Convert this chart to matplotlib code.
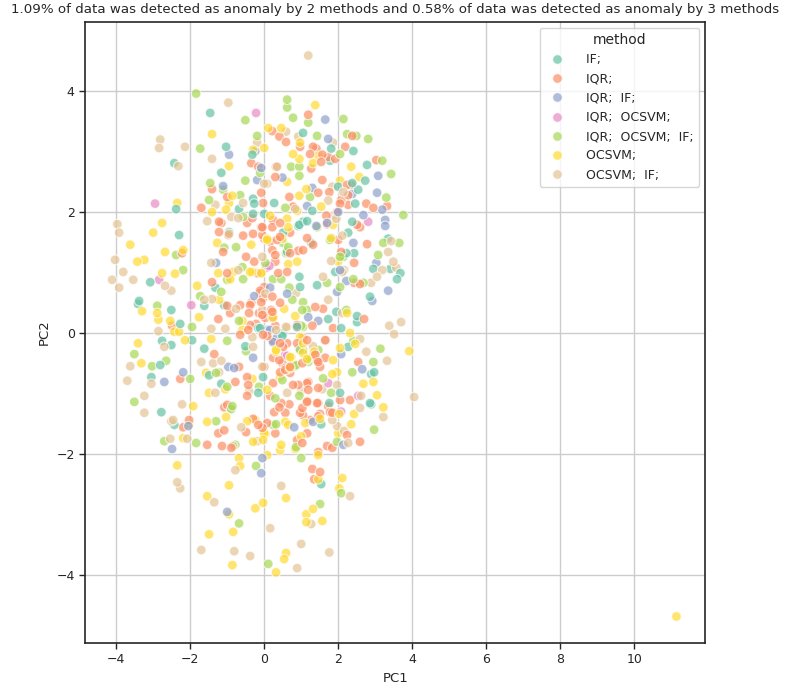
import matplotlib
matplotlib.use("Agg")
import matplotlib.pyplot as plt
import numpy as np
import pandas as pd
import seaborn as sns

# points, grouped by detection method (PC1, PC2)
pts_if = [
    (-1.46, 3.64), (-1.03, 3.08), (-0.32, 2.95), (-2.43, 2.81), (-1.16, 2.65), (-0.30, 2.22),
    (-0.27, 2.14), (-2.38, 2.05), (-0.68, 2.05), (-0.30, 1.97), (0.00, 1.97), (1.05, 3.31),
    (1.81, 3.05), (2.41, 3.01), (1.78, 2.85), (2.78, 2.78), (2.73, 2.52), (2.38, 2.48),
    (2.00, 2.42), (2.54, 2.37), (0.27, 2.15), (2.46, 2.14), (1.30, 2.02), (1.16, 1.85),
    (2.38, 1.84), (0.95, 1.79), (-2.30, 1.62), (-3.08, 0.84), (-1.32, 0.75), (-3.38, 0.53),
    (-3.41, 0.48), (-2.51, 0.38), (-1.62, 0.45), (-2.27, 0.15), (-2.76, -0.13), (-2.51, -0.20),
    (-1.95, -0.12), (-1.62, -0.26), (-2.81, -0.53), (-3.05, -0.73), (-1.49, -0.70), (-1.16, -0.84),
    (-0.16, -0.99), (-0.03, -0.73), (-0.51, -0.22), (-0.95, 1.67), (-1.08, 0.46), (-0.11, 0.08),
    (0.92, 1.77), (1.05, 1.84), (2.27, 1.66), (0.51, 1.66), (0.62, 1.34), (1.27, 1.49),
    (2.22, 1.32), (2.43, 1.32), (3.35, 1.56), (2.95, 1.06), (3.41, 1.06), (3.68, 0.99),
    (3.59, 0.89), (1.92, 1.01), (1.43, 0.79), (2.86, 0.60), (1.95, 0.35), (1.73, 0.23),
    (2.08, 0.08), (2.51, 0.28), (2.51, 0.18), (0.89, 0.10), (0.49, -0.05), (2.27, -0.23),
    (2.97, -0.65), (2.89, -0.68), (2.86, -1.16), (1.76, -1.16), (2.05, -0.99), (-2.78, -1.31),
    (-2.43, -1.52), (2.89, -1.18), (1.54, -1.51), (1.54, -2.50), (0.95, 0.93), (0.97, 0.76),
    (-0.16, 0.08), (0.51, 0.00),
]
pts_iqr = [
    (-0.35, 2.81), (-0.16, 2.75), (-1.41, 2.38), (-0.08, 2.32), (-1.00, 2.25), (-0.03, 2.15),
    (-1.70, 2.07), (-0.32, 1.90), (-1.22, 1.84), (-1.16, 1.82), (1.19, 3.61), (0.22, 3.34),
    (0.41, 3.25), (2.38, 3.26), (0.59, 3.16), (0.97, 3.08), (1.32, 3.08), (1.41, 3.05),
    (2.19, 3.08), (1.24, 2.96), (1.57, 2.95), (1.73, 2.91), (1.92, 2.88), (3.03, 2.86),
    (1.54, 2.83), (0.32, 2.75), (1.27, 2.72), (0.30, 2.58), (1.57, 2.53), (2.24, 2.45),
    (2.35, 2.45), (1.46, 2.32), (1.76, 2.33), (0.68, 2.25), (2.27, 2.28), (2.08, 2.20),
    (2.05, 2.14), (2.27, 2.12), (2.76, 2.14), (2.95, 2.07), (3.32, 2.10), (0.78, 2.09),
    (1.97, 2.00), (1.68, 1.94), (0.24, 1.87), (2.51, 1.79), (2.59, 1.75), (0.43, 1.82),
    (1.70, 1.80), (-2.22, 1.32), (-2.49, 0.12), (-1.24, 0.23), (-0.92, 0.33), (-1.00, 0.45),
    (-0.65, -0.03), (-1.35, -0.35), (-2.27, -0.76), (-0.68, -0.56), (-0.78, -0.81), (-0.46, -0.73),
    (-0.43, -0.86), (-0.46, -1.04), (-1.00, -1.19), (0.00, -0.56), (-1.22, 1.67), (-0.97, 1.62),
    (-0.57, 1.61), (-0.30, 1.64), (-0.08, 1.75), (-0.46, 1.82), (-1.11, 1.34), (0.00, 1.56),
    (-0.49, 1.26), (-0.27, 1.18), (-1.00, 0.99), (-0.19, 0.99), (-1.41, 0.84), (0.00, 0.76),
    (-0.11, 0.70), (-0.08, 0.51), (-0.35, 0.50), (-0.41, 0.33), (-0.14, 0.33), (0.03, 0.25),
    (-0.22, 0.15), (-0.03, -0.03), (-0.43, 0.05), (-0.05, 1.75), (0.22, 1.75), (0.16, 1.51),
    (0.43, 1.59), (0.92, 1.36), (1.16, 1.57), (1.32, 1.46), (2.00, 1.54), (2.08, 1.34),
    (2.43, 1.16), (2.78, 1.47), (2.59, 0.81), (2.43, 0.83), (1.59, 0.40), (1.38, 0.43),
    (1.86, 0.08), (2.70, 0.23), (1.30, 0.12), (0.19, 0.38), (1.65, -0.41), (2.54, -0.48),
    (2.32, -1.11), (2.05, -1.11), (1.51, -0.56), (1.19, -0.81), (1.46, -0.91), (1.46, -1.16),
    (0.08, -0.05), (0.89, 0.10), (0.51, -0.23), (1.05, -0.08), (1.32, -0.38), (1.43, -0.45),
    (0.41, -0.45), (0.70, -0.56), (0.57, -0.61), (0.24, -0.83), (0.16, -1.04), (0.46, -1.16),
    (0.78, -0.86), (1.16, -1.14), (-2.19, -1.56), (-2.03, -1.44), (-1.08, -1.23), (-1.08, -1.61),
    (-1.24, -1.66), (-0.49, -1.64), (-0.16, -1.52), (-0.05, -1.57), (-0.30, -1.42), (-1.54, -1.85),
    (-1.14, -1.87), (-0.89, -1.90), (2.59, -1.80), (2.24, -1.69), (1.78, -1.31), (1.51, -1.34),
    (1.46, -1.38), (1.03, -1.24), (1.05, -1.36), (1.16, -1.66), (1.03, -1.82), (0.89, -1.77),
    (1.70, -1.87), (1.84, -1.90), (1.46, -1.97), (0.30, -1.66), (0.08, -1.49), (1.30, -2.25),
    (1.51, -2.30), (1.35, -2.42),
    # denser centre
    (-0.05, 1.62), (0.35, 1.54), (0.70, 1.66), (0.22, 1.37), (0.30, 1.29), (0.70, 1.32),
    (1.05, 1.37), (0.30, 1.18), (0.62, 1.01), (0.38, 0.99), (-0.11, 0.66), (-0.03, 0.58),
    (0.22, 0.60), (0.43, 0.50), (0.22, 0.35), (-0.05, 0.30), (0.22, 0.25), (0.30, 0.12),
    (0.89, 0.13), (-0.38, 0.13), (-0.65, 0.46), (-0.38, 0.46), (0.22, -0.12), (0.43, -0.17),
    (0.62, -0.17), (0.24, -0.41), (0.49, -0.50), (0.57, -0.58), (0.70, -0.66), (0.43, -0.65),
    (1.03, -0.50), (1.46, -0.48), (1.65, -0.12), (1.16, -0.12), (1.38, -0.36), (0.89, -0.17),
    (1.16, -0.83), (1.19, -0.94), (0.92, -0.86), (0.68, -1.18), (0.57, -1.32), (0.41, -1.23),
    (0.27, -1.31), (0.97, -1.32), (1.24, -1.44), (1.43, -1.16), (1.16, -1.13), (1.73, -1.21),
    (1.84, -1.32),
]
pts_iqr_if = [
    (-0.24, 3.01), (-0.95, 2.95), (-0.08, 2.73), (-0.19, 2.53), (-1.11, 2.43), (1.65, 3.53),
    (1.73, 3.21), (3.08, 2.60), (0.49, 2.57), (1.30, 2.40), (3.05, 2.32), (2.38, 2.30),
    (1.16, 2.10), (3.19, 2.04), (2.00, 2.00), (2.68, 1.95), (1.41, 1.77), (3.27, 1.87),
    (3.27, 1.77), (-2.19, -0.65), (-2.70, -0.81), (-0.97, -0.56), (-0.81, -0.58), (-0.30, -0.41),
    (-1.30, 1.16), (-0.27, 0.61), (0.08, 0.05), (1.70, 1.82), (2.41, 1.49), (3.03, 1.16),
    (3.35, 0.70), (2.22, 0.86), (2.05, 1.04), (1.97, 0.68), (2.92, 0.53), (1.46, 0.20),
    (1.19, 0.26), (2.08, -0.35), (2.65, -0.60), (0.24, -0.15), (0.95, -0.25), (-2.05, -1.54),
    (-2.49, -1.92), (-0.05, -2.07), (-0.08, -2.32), (-1.00, -2.96), (2.14, -1.85), (1.32, -1.47),
    (0.81, -1.56), (0.16, 0.75), (0.62, 0.65), (0.16, 0.05), (0.35, -0.07),
]
pts_iqr_ocsvm = [
    (-0.22, 3.64), (-2.95, 2.14), (2.81, 1.84), (-2.84, 0.88), (-1.97, 0.46), (0.05, 1.08),
    (2.54, -1.04), (1.73, -0.83), (0.62, -0.38), (-0.92, -1.23), (2.08, -1.30), (0.14, 1.11),
    (0.57, -0.36),
]
pts_iqr_ocsvm_if = [
    (-1.84, 3.96), (-0.51, 3.52), (-0.19, 3.26), (-1.73, 3.05), (-0.11, 2.65), (-1.46, 2.48),
    (-0.51, 2.52), (-1.11, 2.37), (-0.65, 2.28), (-1.49, 2.20), (-0.57, 1.92), (0.62, 3.86),
    (0.62, 3.73), (0.78, 3.56), (1.19, 3.48), (2.14, 3.54), (1.43, 3.26), (2.24, 3.29),
    (2.49, 3.26), (2.81, 3.21), (2.05, 2.96), (3.19, 2.85), (0.73, 2.75), (0.95, 2.75),
    (3.43, 2.63), (0.95, 2.60), (1.24, 2.25), (3.30, 2.24), (0.57, 2.07), (3.76, 1.95),
    (1.43, 1.75), (-2.38, 1.29), (-2.19, 1.04), (-1.73, 0.61), (-1.16, 0.68), (-2.89, 0.45),
    (-1.95, 0.10), (-0.68, 0.20), (-1.00, -0.13), (-3.51, -0.35), (-3.03, -0.55), (-2.65, -0.46),
    (-2.00, -0.76), (-3.51, -1.14), (-1.30, -0.66), (-1.00, -0.89), (-0.86, -1.21), (-0.14, -0.89),
    (-0.49, -0.30), (-1.08, 1.41), (-0.76, 1.42), (0.03, 1.16), (-0.59, 1.09), (-1.00, 0.88),
    (-0.57, 0.89), (0.65, 1.42), (0.59, 1.32), (1.78, 1.54), (2.14, 1.26), (3.22, 1.49),
    (3.65, 1.49), (3.08, 1.29), (2.68, 0.83), (2.41, 0.89), (2.05, 1.26), (1.70, 0.83),
    (2.05, 0.76), (2.22, 0.38), (1.03, 0.38), (1.16, 0.38), (1.00, 0.12), (2.41, -0.13),
    (3.14, -0.26), (1.22, -0.45), (2.95, -0.48), (2.38, -0.65), (1.81, -0.99), (1.59, -0.75),
    (1.05, -0.28), (1.16, -0.45), (0.86, -0.53), (0.49, -0.78), (0.30, -1.08), (0.95, -1.04),
    (-1.30, -1.46), (-0.89, -1.26), (-2.70, -1.79), (-1.84, -1.82), (-0.78, -1.85), (-0.22, -2.20),
    (-0.68, -3.15), (0.11, -3.82), (2.97, -1.60), (1.97, -1.80), (0.86, -1.89), (1.00, -2.07),
    (0.32, -1.51), (0.24, -1.52), (2.08, -2.65), (1.51, -2.83), (0.51, 1.49), (0.62, 1.37),
    (0.24, 0.89), (0.46, 0.89), (0.68, 0.75), (0.76, 0.55), (1.05, 0.51), (1.05, 0.10),
    (0.84, -0.55), (1.19, -0.48), (1.46, -0.28), (0.97, -0.28),
]
pts_ocsvm = [
    (-1.41, 3.29), (0.11, 3.39), (-0.30, 3.03), (0.00, 3.06), (-0.95, 2.76), (-0.86, 2.27),
    (-2.35, 2.15), (-0.95, 2.15), (-1.03, 2.04), (-1.41, 2.00), (-2.76, 1.82), (1.38, 3.77),
    (0.46, 3.39), (0.97, 3.15), (0.78, 2.96), (1.46, 2.93), (0.95, 2.88), (1.32, 2.81),
    (2.35, 2.75), (2.57, 2.58), (0.62, 2.50), (2.05, 2.52), (1.14, 2.38), (0.95, 2.27),
    (1.54, 2.09), (0.89, 2.02), (0.16, 1.94), (0.62, 1.89), (1.86, 1.79), (-3.00, 1.66),
    (-3.62, 1.46), (-2.68, 1.34), (-2.19, 1.37), (-3.43, 1.18), (-3.24, 1.21), (-2.76, 0.99),
    (-2.41, 0.98), (-1.81, 0.78), (-1.22, 0.55), (-3.30, 0.36), (-2.89, 0.33), (-2.86, 0.22),
    (-1.76, 0.26), (-2.54, 0.20), (-2.43, 0.02), (-2.30, 0.02), (-0.59, 0.20), (-3.41, -0.17),
    (-2.14, -0.12), (-1.43, -0.10), (-3.32, -0.50), (-1.57, -0.66), (-1.05, -0.93), (-0.32, -0.76),
    (-1.49, -0.99), (-1.92, -1.21), (-1.27, 1.49), (-0.35, 1.46), (-1.24, 0.99), (-0.84, 1.01),
    (-0.92, 0.89), (-0.38, 1.01), (-0.08, 0.99), (0.08, 1.56), (0.49, 1.56), (1.81, 1.57),
    (2.00, 1.18), (2.24, 0.33), (0.84, 0.28), (0.24, 0.26), (2.32, 0.00), (2.46, -0.18),
    (2.05, -0.25), (1.86, -0.45), (3.92, -0.30), (2.95, -0.81), (2.68, -0.84), (3.05, -1.03),
    (1.97, -0.65), (1.84, -0.68), (0.32, -0.28), (1.05, -0.17), (1.35, -0.31), (0.73, -0.40),
    (0.70, -0.58), (0.43, -0.73), (0.08, -0.94), (-2.03, -1.51), (-1.54, -1.47), (-1.03, -1.39),
    (-0.46, -1.46), (-0.24, -1.44), (0.03, -1.67), (-2.19, -1.74), (-0.30, -1.80), (-0.03, -1.77),
    (-0.68, -2.07), (-0.65, -2.20), (0.08, -2.02), (-2.35, -2.19), (-0.95, -2.52), (-1.54, -2.70),
    (-0.95, -3.00), (-0.24, -2.90), (-0.03, -2.81), (-1.49, -3.33), (-0.84, -3.29), (-0.86, -3.84),
    (3.22, -1.23), (2.43, -1.34), (2.35, -1.51), (2.00, -1.66), (2.03, -1.34), (1.51, -1.42),
    (1.11, -1.49), (1.00, -1.71), (0.84, -1.92), (1.46, -2.02), (0.43, -1.94), (0.46, -1.85),
    (0.65, -1.52), (0.57, -1.47), (0.00, -1.66), (1.46, -2.42), (2.11, -2.40), (2.03, -2.57),
    (0.59, -2.73), (1.32, -2.91), (1.14, -3.00), (1.14, -3.13), (1.57, -3.11), (0.59, -3.64),
    (0.54, -3.74), (0.32, -3.96), (11.14, -4.69), (0.65, 1.75), (0.08, 1.54), (-0.32, 1.01),
    (-0.08, 0.99), (0.65, 1.14), (0.89, 1.18), (0.54, 0.40), (0.97, -0.07), (-0.59, 0.05),
    (0.32, -0.31), (0.70, -0.40), (0.62, -0.60), (1.16, -0.43), (1.05, -0.33),
]
pts_ocsvm_if = [
    (-0.97, 3.81), (-2.81, 3.20), (-2.84, 3.06), (-2.14, 3.08), (-0.19, 3.15), (-1.41, 2.88),
    (-2.32, 2.76), (0.00, 2.47), (0.08, 2.47), (-0.57, 2.15), (-1.32, 2.12), (-0.89, 1.92),
    (-0.70, 1.90), (-3.97, 1.80), (-1.54, 1.85), (1.19, 4.59), (0.59, 3.33), (0.92, 3.25),
    (1.86, 3.15), (0.35, 2.75), (1.84, 2.42), (2.14, 2.33), (1.73, 2.19), (0.84, 2.05),
    (1.86, 1.94), (1.95, 1.89), (-3.92, 1.66), (-4.03, 1.21), (-3.81, 1.01), (-3.54, 0.88),
    (-4.11, 0.88), (-2.68, 0.78), (-2.51, 0.70), (-3.92, 0.75), (-1.62, 0.55), (-1.41, 0.56),
    (-2.86, 0.03), (-1.43, 0.07), (-1.05, 0.07), (-0.76, 0.40), (-2.70, -0.23), (-3.62, -0.55),
    (-1.70, -0.48), (-1.38, -0.50), (-1.16, -0.46), (-3.05, -0.84), (-3.70, -0.79), (-3.24, -1.04),
    (-1.22, -0.65), (-0.41, -0.96), (-1.32, -0.99), (-2.22, -1.18), (-0.30, -0.23), (-0.95, 1.64),
    (-0.05, 1.26), (-1.43, 1.16), (-0.70, 1.04), (0.03, 0.65), (-0.05, 0.38), (-0.32, -0.07),
    (2.11, 1.61), (3.43, 1.52), (3.35, 1.34), (3.19, 1.04), (3.49, 1.18), (3.57, 1.08),
    (3.05, 0.93), (2.89, 0.83), (2.11, 1.01), (2.16, 1.04), (1.81, 1.19), (1.59, 0.93),
    (1.73, 0.55), (2.11, 0.33), (3.38, 0.12), (3.70, 0.18), (3.51, -0.02), (2.59, -0.10),
    (2.76, -0.31), (1.65, -0.12), (3.32, -0.46), (4.05, -1.06), (2.62, -1.04), (1.97, -0.86),
    (1.57, -0.93), (0.32, 0.05), (0.59, 0.10), (1.32, -0.22), (-0.05, -0.56), (0.62, -0.99),
    (1.00, -0.96), (-3.24, -1.32), (-2.51, -1.46), (-2.46, -1.44), (-0.62, -1.56), (-2.54, -1.75),
    (-2.08, -1.75), (-0.84, -1.87), (-0.19, -1.79), (-0.78, -2.27), (-2.35, -2.47), (-2.27, -2.57),
    (-1.35, -2.80), (-1.70, -3.59), (-0.81, -3.61), (-0.38, -3.69), (0.16, -3.23), (3.22, -1.39),
    (2.59, -1.24), (2.16, -1.62), (2.27, -1.82), (1.97, -1.54), (1.84, -1.44), (0.46, -2.53),
    (2.32, -2.70), (1.27, -3.16), (1.00, -3.49), (1.76, -3.63), (0.89, -3.89), (0.86, 0.66),
    (0.62, 0.10),
]

methods = [" IF;", " IQR;", " IQR;  IF;", " IQR;  OCSVM;", " IQR;  OCSVM;  IF;",
           " OCSVM;", " OCSVM;  IF;"]
groups = [pts_if, pts_iqr, pts_iqr_if, pts_iqr_ocsvm, pts_iqr_ocsvm_if, pts_ocsvm, pts_ocsvm_if]

rows = []
for m, g in zip(methods, groups):
    for x, y in g:
        rows.append((x, y, m))
df = pd.DataFrame(rows, columns=["PC1", "PC2", "method"])
# mix the groups so no colour sits on top of all others
df = df.sample(frac=1.0, random_state=3).reset_index(drop=True)

sns.set_style("ticks")
plt.rcParams["font.family"] = ["DejaVu Sans"]

fig = plt.figure(figsize=(7.88, 6.99), dpi=100)
ax = fig.add_axes([0.108, 0.080, 0.787, 0.889])
sns.scatterplot(data=df, x="PC1", y="PC2", hue="method", hue_order=methods,
                palette="Set2", s=48, alpha=0.7, edgecolor="white", linewidth=0.8, ax=ax)
ax.grid(True, color="#cccccc", linewidth=1.0)
ax.set_axisbelow(True)
ax.set_xlim(-4.84, 11.92)
ax.set_ylim(-5.13, 5.15)
ax.set_xticks([-4, -2, 0, 2, 4, 6, 8, 10])
ax.set_yticks([-4, -2, 0, 2, 4])
ax.tick_params(labelsize=9, length=4, width=1, color="#262626", labelcolor="#262626")
for sp in ax.spines.values():
    sp.set_color("#262626")
    sp.set_linewidth(1.2)
ax.set_xlabel("PC1", fontsize=9.5, color="#262626")
ax.set_ylabel("PC2", fontsize=9.5, color="#262626")
ax.set_title("1.09% of data was detected as anomaly by 2 methods and 0.58% of data was "
             "detected as anomaly by 3 methods", fontsize=9.6, color="#262626")

leg = ax.legend(title="method", loc="upper right", fontsize=9, title_fontsize=10,
                markerscale=1.0, borderaxespad=0.5, handletextpad=1.0)
leg.get_frame().set_edgecolor("#cccccc")

fig.savefig("out.png", dpi=100)
